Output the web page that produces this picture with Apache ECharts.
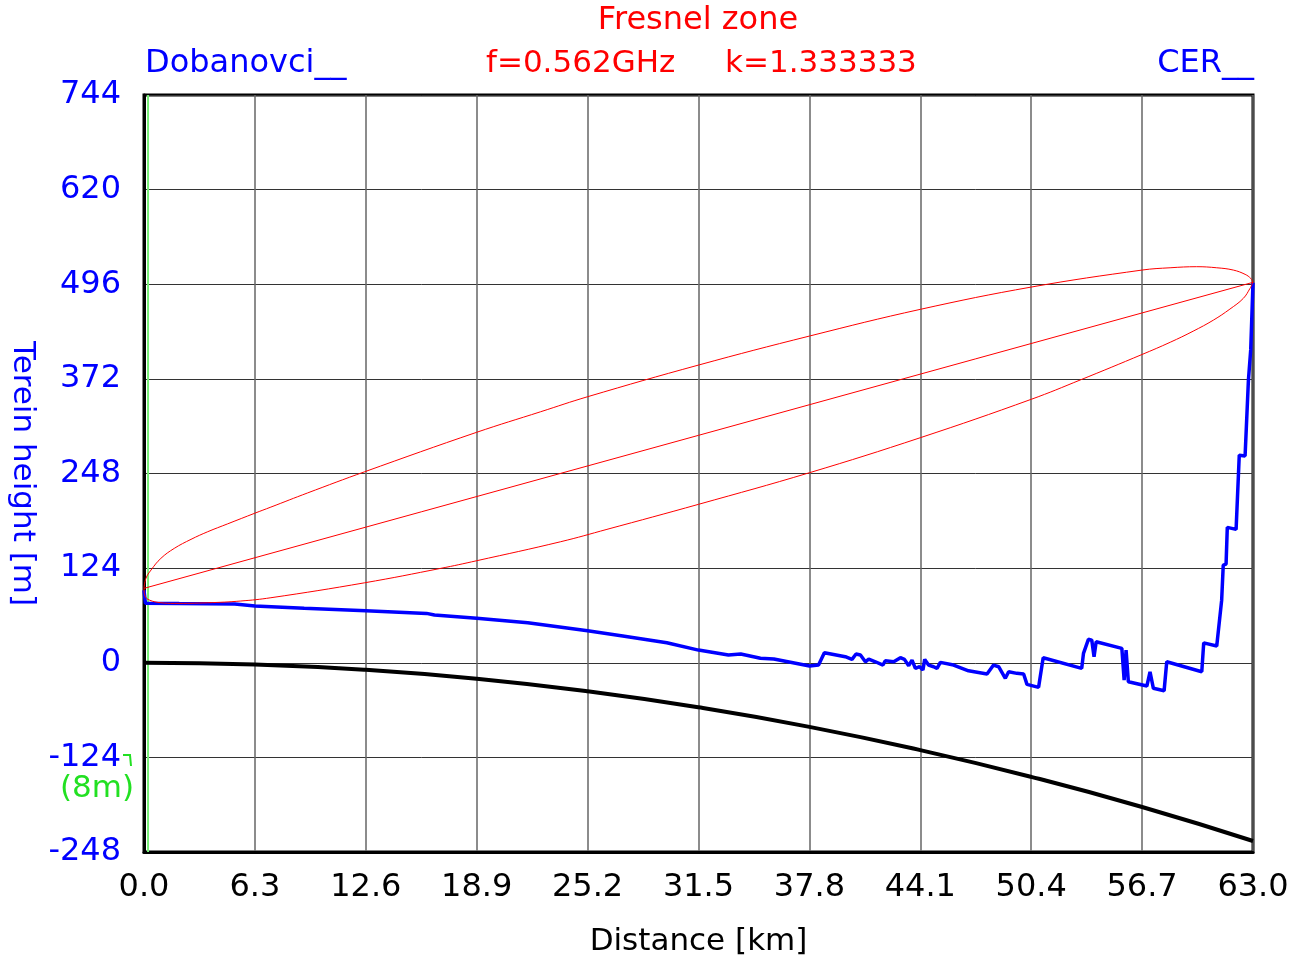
<!DOCTYPE html>
<html>
<head>
<meta charset="utf-8">
<script src="https://cdn.jsdelivr.net/npm/echarts@6/dist/echarts.min.js"></script>
<style>
html,body{margin:0;padding:0;background:#fff;}
#chart{width:1303px;height:964px;}
</style>
</head>
<body>
<div id="chart"></div>
<script>
// ---- data ----
const xTickStep = 6.3;
const yTickStep = 124;

const terrainDist = [0, 0.08, 2.0, 5.16, 6.3, 9.1, 12.6, 16.05, 16.5, 18.9, 21.8, 25.2, 27.2, 29.7, 31.5, 33.2, 33.9, 35.02, 35.78, 37.81, 38.32, 38.65, 39.84, 40.22, 40.45, 40.7, 40.98, 41.17, 41.55, 41.98, 42.11, 42.59, 42.68, 42.97, 43.2, 43.44, 43.63, 43.82, 44.06, 44.25, 44.35, 44.57, 44.86, 45.05, 45.24, 45.99, 46.84, 47.89, 48.26, 48.55, 48.93, 49.12, 49.59, 49.97, 50.16, 50.82, 51.08, 53.27, 53.37, 53.46, 53.65, 53.84, 53.97, 54.09, 55.55, 55.68, 55.79, 55.87, 55.92, 56.97, 57.15, 57.34, 57.95, 58.1, 60.09, 60.2, 60.94, 61.22, 61.31, 61.47, 61.54, 62.04, 62.22, 62.55, 62.74, 62.87, 63.0];
const terrainHeight = [95, 78, 77.5, 77, 74.3, 71.3, 68.1, 64.7, 62.5, 58.2, 52.4, 41.9, 35, 26.2, 16.6, 10.1, 11.4, 5.8, 4.8, -4.3, -3, 13.1, 7.9, 4.4, 11.4, 10.1, 1.3, 4.8, 1.3, -3, 2.6, 1.3, -0.8, 6.6, 4.4, -3.9, 3.5, -7.3, -5.2, -9.6, 4.4, -3, -5.2, -7.3, 0.5, -3, -10.5, -14.8, -3, -5.2, -20.4, -11.8, -13.9, -14.8, -28.3, -32.2, 6.5, -7.3, 12.3, 14.4, 30.7, 29.7, 7.9, 27.5, 18.9, -22.7, 16.6, 16.6, -24.9, -30.5, -11.8, -33.5, -36.7, 1.3, -11.8, 26, 21.9, 82, 128, 129.3, 177.4, 174.8, 272, 270.9, 370.4, 410, 498];

const earthDist = [0, 6.3, 12.6, 18.9, 25.2, 31.5, 37.8, 44.1, 50.4, 56.7, 63.0];
const earthHeight = [0, -2.3, -9.3, -21, -37.4, -58.4, -84, -114.5, -149.5, -189, -233.6];

const fresnelUpperDist = [0, 0.11, 0.4, 0.96, 1.72, 2.67, 3.62, 4.75, 6.3, 7.21, 9.29, 12.54, 18.9, 22.53, 25.2, 31.5, 37.8, 44.1, 50.4, 56.7, 58.29, 59.8, 60.94, 61.88, 62.55, 62.87, 63.0];
const fresnelUpperHeight = [97.5, 110.6, 121.5, 136.8, 149.9, 161.7, 171.7, 182, 196, 204, 222.5, 250.3, 302, 328.9, 348.6, 390.1, 428.1, 463.1, 492.3, 514.6, 517.6, 519, 517.6, 514.6, 509, 503.7, 498.5];
const fresnelLowerDist = [63.0, 62.83, 62.45, 61.69, 60.75, 59.6, 58.3, 56.7, 53.18, 50.4, 44.1, 37.8, 31.5, 26.3, 23.67, 18.9, 16.86, 12.54, 7.21, 5.5, 3.62, 1.72, 0.96, 0.3, 0.06, 0];
const fresnelLowerHeight = [498.5, 490.6, 477.5, 463.5, 449, 434.5, 420, 404, 370.5, 345.2, 294.9, 249, 207.6, 174.8, 158.6, 133.7, 123.7, 104.8, 85.2, 80.9, 78.6, 77.8, 78.6, 82.2, 87.4, 97.5];

const losDist = [0, 63.0];
const losHeight = [97.5, 498.5];

const markerDist = 0.23;

// ---- build chart ----
const zip = (a, b) => a.map((v, i) => [v, b[i]]);
const FONT = 'DejaVu Sans';
const BLUE = '#0000ff';
const RED = '#ff0000';
const GREEN = '#22e022';

const fresnelUpper = zip(fresnelUpperDist, fresnelUpperHeight);
const fresnelLower = zip(fresnelLowerDist, fresnelLowerHeight);

const chart = echarts.init(document.getElementById('chart'), null, {renderer: 'canvas'});
chart.setOption({
  animation: false,
  backgroundColor: '#ffffff',
  grid: {left: 144, right: 50, top: 95, bottom: 112, outerBoundsMode: 'none', containLabel: false,
         show: true, borderColor: '#000', borderWidth: 3, backgroundColor: 'transparent'},
  xAxis: {
    type: 'value', min: 0, max: 63, interval: xTickStep,
    name: 'Distance [km]', nameLocation: 'middle', nameGap: 74,
    nameTextStyle: {color: '#000', fontFamily: FONT, fontSize: 31},
    axisLine: {show: true, onZero: false, lineStyle: {color: '#000', width: 3}},
    axisTick: {show: false},
    axisLabel: {color: '#000', fontFamily: FONT, fontSize: 32, margin: 20,
      formatter: v => (Math.round(v * 10) / 10).toFixed(1)},
    splitLine: {show: true, lineStyle: {color: '#666', width: 1.5}}
  },
  yAxis: {
    type: 'value', min: -248, max: 744, interval: yTickStep,
    name: 'Terein height [m]', nameLocation: 'middle', nameGap: 104, nameRotate: -90,
    nameTextStyle: {color: BLUE, fontFamily: FONT, fontSize: 31},
    axisLine: {show: true, onZero: false, lineStyle: {color: '#000', width: 3}},
    axisTick: {show: false},
    axisLabel: {color: BLUE, fontFamily: FONT, fontSize: 32, margin: 23},
    splitLine: {show: true, lineStyle: {color: '#333', width: 1}}
  },
  series: [
    {type: 'line', name: 'earth', data: zip(earthDist, earthHeight), smooth: true, showSymbol: false,
     lineStyle: {color: '#000', width: 4}, z: 3},
    {type: 'line', name: 'terrain', data: zip(terrainDist, terrainHeight), showSymbol: false,
     lineStyle: {color: BLUE, width: 3.5}, z: 4},
    {type: 'line', name: 'fresnelUpper', data: fresnelUpper, smooth: 0.4, showSymbol: false,
     lineStyle: {color: RED, width: 1}, z: 5},
    {type: 'line', name: 'fresnelLower', data: fresnelLower, smooth: 0.4, showSymbol: false,
     lineStyle: {color: RED, width: 1}, z: 5},
    {type: 'line', name: 'los', data: zip(losDist, losHeight), showSymbol: false,
     lineStyle: {color: RED, width: 1}, z: 5},
    {type: 'line', name: 'marker', data: [[markerDist, -248], [markerDist, 744]], showSymbol: false,
     lineStyle: {color: '#77ee77', width: 2}, z: 2}
  ],
  graphic: [
    {type: 'text', x: 698, y: 5, style: {text: 'Fresnel zone', fill: RED, font: '32px "DejaVu Sans"', align: 'center'}},
    {type: 'text', x: 145, y: 48, style: {text: 'Dobanovci__', fill: BLUE, font: '32px "DejaVu Sans"'}},
    {type: 'text', x: 486, y: 48, style: {text: 'f=0.562GHz', fill: RED, font: '31px "DejaVu Sans"'}},
    {type: 'text', x: 725, y: 48, style: {text: 'k=1.333333', fill: RED, font: '31px "DejaVu Sans"'}},
    {type: 'text', x: 1254, y: 48, style: {text: 'CER__', fill: BLUE, font: '32px "DejaVu Sans"', align: 'right'}},
    {type: 'text', x: 134, y: 773, style: {text: '(8m)', fill: GREEN, font: '31px "DejaVu Sans"', align: 'right'}},
    {type: 'polyline', shape: {points: [[123, 755], [130, 755], [131, 766]]}, style: {stroke: GREEN, lineWidth: 2, fill: null}}
  ]
});
</script>
</body>
</html>
